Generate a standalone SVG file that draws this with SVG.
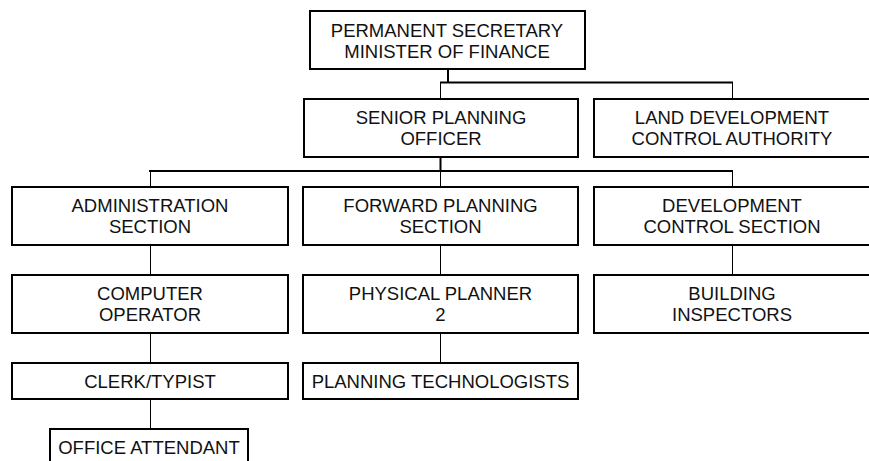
<svg xmlns="http://www.w3.org/2000/svg" width="869" height="461" viewBox="0 0 869 461">
<style>
.box{fill:#fff;stroke:#000;stroke-width:2}
.t{font-family:"Liberation Sans",Arial,sans-serif;font-size:18.5px;fill:#111;text-anchor:middle}
.thin{stroke:#000;stroke-width:1;fill:none}
.thick{stroke:#000;stroke-width:2;fill:none}
</style>
<rect width="869" height="461" fill="#fff"/>
<g id="connectors">
<path class="thick" d="M448 69V82.5M440 82.5H733M440.5 157V171M149 171H733"/>
<path class="thin" d="M440.5 82.5V99M732.5 82.5V99M150.5 171V187M440.5 171V187M732.5 171V187M150.5 245V275M440.5 245V275M732.5 245V275M150.5 333V363M440.5 333V363M150.5 399V429"/>
</g>
<g id="n-permanent"><rect class="box" x="310" y="11" width="275" height="58"/><text class="t" x="447" y="36.5">PERMANENT SECRETARY</text><text class="t" x="447" y="58">MINISTER OF FINANCE</text></g>
<g id="n-senior"><rect class="box" x="304" y="99" width="274" height="58"/><text class="t" x="441" y="123.5">SENIOR PLANNING</text><text class="t" x="441" y="145">OFFICER</text></g>
<g id="n-land"><rect class="box" x="594" y="99" width="280" height="58"/><text class="t" x="732" y="123.5">LAND DEVELOPMENT</text><text class="t" x="732" y="145">CONTROL AUTHORITY</text></g>
<g id="n-admin"><rect class="box" x="12" y="187" width="276" height="58"/><text class="t" x="150" y="211.5">ADMINISTRATION</text><text class="t" x="150" y="233">SECTION</text></g>
<g id="n-forward"><rect class="box" x="303" y="187" width="275" height="58"/><text class="t" x="440.5" y="211.5">FORWARD PLANNING</text><text class="t" x="440.5" y="233">SECTION</text></g>
<g id="n-devcontrol"><rect class="box" x="594" y="187" width="280" height="58"/><text class="t" x="732" y="211.5">DEVELOPMENT</text><text class="t" x="732" y="233">CONTROL SECTION</text></g>
<g id="n-computer"><rect class="box" x="12" y="275" width="276" height="58"/><text class="t" x="150" y="299.5">COMPUTER</text><text class="t" x="150" y="321">OPERATOR</text></g>
<g id="n-physical"><rect class="box" x="303" y="275" width="275" height="58"/><text class="t" x="440.5" y="299.5">PHYSICAL PLANNER</text><text class="t" x="440.5" y="321">2</text></g>
<g id="n-building"><rect class="box" x="594" y="275" width="280" height="58"/><text class="t" x="732" y="299.5">BUILDING</text><text class="t" x="732" y="321">INSPECTORS</text></g>
<g id="n-clerk"><rect class="box" x="12" y="363" width="276" height="36"/><text class="t" x="150" y="387.5">CLERK/TYPIST</text></g>
<g id="n-plantech"><rect class="box" x="303" y="363" width="275" height="36"/><text class="t" x="440.5" y="387.5">PLANNING TECHNOLOGISTS</text></g>
<g id="n-office"><rect class="box" x="50" y="429" width="198" height="42"/><text class="t" x="149" y="454">OFFICE ATTENDANT</text></g>
</svg>
